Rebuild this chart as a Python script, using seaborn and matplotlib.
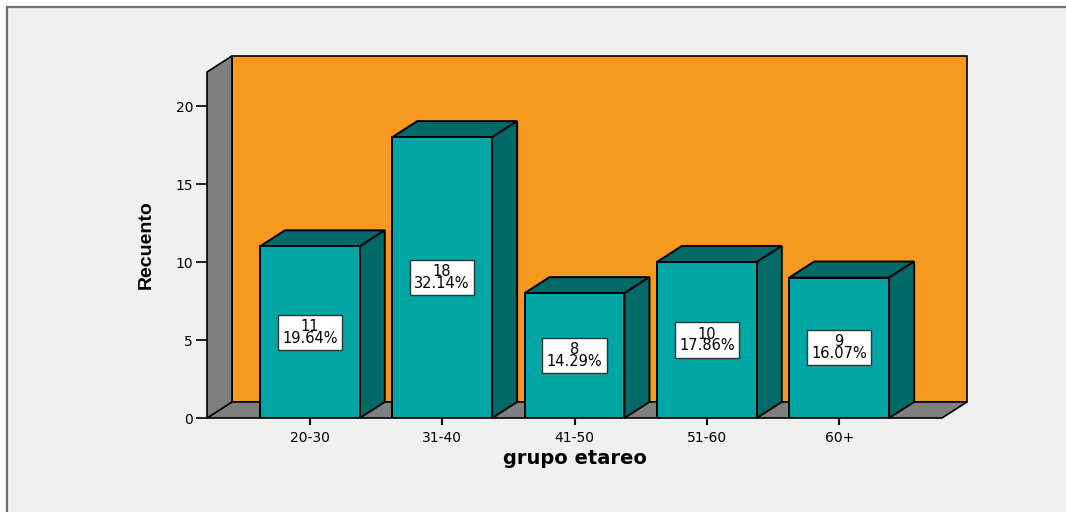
import matplotlib
matplotlib.use("Agg")
import matplotlib.pyplot as plt
from matplotlib.patches import Polygon, Rectangle
import seaborn as sns
import pandas as pd

# data
grupos = ["20-30", "31-40", "41-50", "51-60", "60+"]
recuento = [11, 18, 8, 10, 9]
porcentaje = [19.64, 32.14, 14.29, 17.86, 16.07]
y_ticks = [0, 5, 10, 15, 20]

FRONT = "#00a6a4"
DARK = "#006a68"
WALL = "#f7981f"
GREY = "#7f7f7f"
BG = "#f0f0f0"

sns.set_theme(style="white")
plt.rcParams["font.family"] = ["DejaVu Sans"]
plt.rcParams["text.color"] = "black"
plt.rcParams["xtick.color"] = "black"
plt.rcParams["ytick.color"] = "black"
plt.rcParams["axes.labelcolor"] = "black"

W, H = 1066, 512
fig = plt.figure(figsize=(W / 100, H / 100), dpi=100, facecolor="white")
# grey panel with a frame, running off the right/bottom edge like the original
panel = Rectangle((7 / W, -0.1), 1.2, (H - 7) / H + 0.1,
                  transform=fig.transFigure, facecolor=BG,
                  edgecolor="#707070", linewidth=1.6, zorder=-10)
fig.add_artist(panel)

ax = fig.add_axes([207 / W, (H - 418) / H, 735 / W, 346 / H])
ax.set_facecolor("none")

df = pd.DataFrame({"grupo": grupos, "recuento": recuento})
sns.barplot(data=df, x="grupo", y="recuento", color=FRONT, saturation=1,
            width=0.755, edgecolor="black", linewidth=1.4, ax=ax, zorder=5)
bars = list(ax.patches)

x0, x1 = -0.777, 4.777
ytop = 22.18
ax.set_xlim(x0, x1)
ax.set_ylim(0, ytop)

# depth of the fake 3D effect, in data units
DX, DY = 0.189, 1.03

# back wall, floor and left wall
back = Polygon([(x0 + DX, DY), (x1 + DX, DY), (x1 + DX, ytop + DY), (x0 + DX, ytop + DY)],
               facecolor=WALL, edgecolor="black", linewidth=1.2, clip_on=False, zorder=1)
floor = Polygon([(x0, 0), (x1, 0), (x1 + DX, DY), (x0 + DX, DY)],
                facecolor=GREY, edgecolor="black", linewidth=1.2, clip_on=False, zorder=2)
left = Polygon([(x0, 0), (x0, ytop), (x0 + DX, ytop + DY), (x0 + DX, DY)],
               facecolor=GREY, edgecolor="black", linewidth=1.2, clip_on=False, zorder=2)
for p in (back, floor, left):
    ax.add_patch(p)

# top and side faces of each bar + value labels
for bar, n, pct in zip(bars, recuento, porcentaje):
    bx, bw, bh = bar.get_x(), bar.get_width(), bar.get_height()
    top = Polygon([(bx, bh), (bx + bw, bh), (bx + bw + DX, bh + DY), (bx + DX, bh + DY)],
                  facecolor=DARK, edgecolor="black", linewidth=1.4, zorder=4, clip_on=False)
    side = Polygon([(bx + bw, 0), (bx + bw + DX, DY), (bx + bw + DX, bh + DY), (bx + bw, bh)],
                   facecolor=DARK, edgecolor="black", linewidth=1.4, zorder=4, clip_on=False)
    ax.add_patch(top)
    ax.add_patch(side)
    ax.text(bx + bw / 2, bh / 2, f"{n}\n{pct:.2f}%", ha="center", va="center",
            fontsize=10.5, linespacing=0.72, zorder=6,
            bbox=dict(boxstyle="square,pad=0.3", facecolor="white",
                      edgecolor="#333333", linewidth=1.0))

sns.despine(ax=ax, left=True, bottom=True)
ax.set_yticks(y_ticks)
ax.tick_params(axis="y", left=True, length=8, width=1.2,
               labelsize=10, pad=2)
ax.tick_params(axis="x", bottom=True, length=5, width=1.5,
               labelsize=10, pad=4)
ax.set_xlabel("grupo etareo", fontsize=14, fontweight="bold", labelpad=3)
ax.set_ylabel("Recuento", fontsize=14, fontweight="bold",
              family=["Liberation Sans", "DejaVu Sans"], labelpad=15)

fig.savefig("out.png", dpi=100, facecolor="white")
